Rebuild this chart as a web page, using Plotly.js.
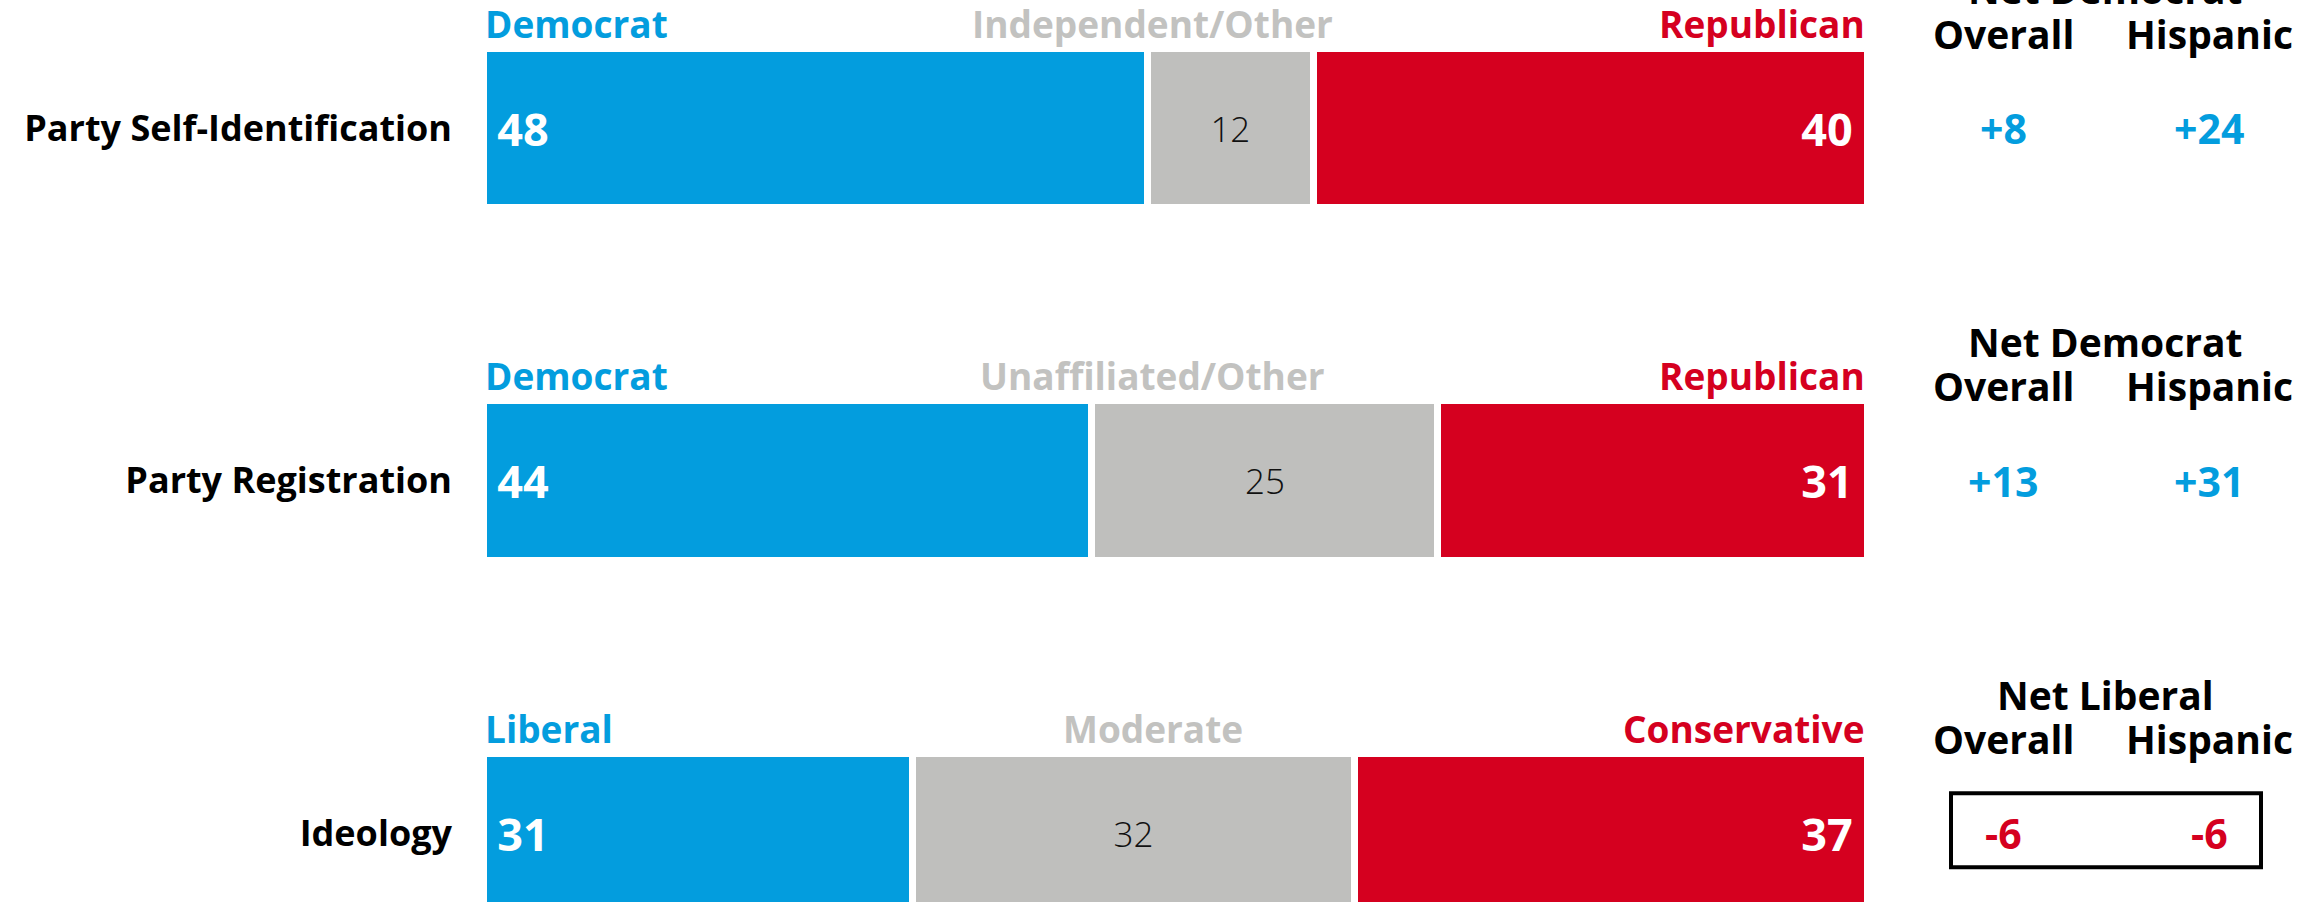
<!DOCTYPE html>
<html>
<head>
<meta charset="utf-8">
<script src="https://cdn.plot.ly/plotly-3.0.1.min.js"></script>
<style>
  html, body { margin: 0; padding: 0; background: #ffffff; }
  #chart { width: 2323px; height: 902px; }
</style>
</head>
<body>
<div id="chart"></div>
<script>
// ---- data ----
const categories = ['Party Self-Identification', 'Party Registration', 'Ideology'];
const leftNames = ['Democrat', 'Democrat', 'Liberal'];
const midNames = ['Independent/Other', 'Unaffiliated/Other', 'Moderate'];
const rightNames = ['Republican', 'Republican', 'Conservative'];
const leftVals = [48, 44, 31];
const midVals = [12, 25, 32];
const rightVals = [40, 31, 37];
const netTitles = ['Net Democrat', 'Net Democrat', 'Net Liberal'];
const colHeaders = ['Overall', 'Hispanic'];
const netOverall = ['+8', '+13', '-6'];
const netHispanic = ['+24', '+31', '-6'];
const boxedRows = [false, false, true];

// ---- style ----
const BLUE = '#039DDE';
const RED = '#D5001F';
const GRAY = '#BFBFBD';
const GRAY_TEXT = '#C2C2C0';
const FONT = 'Open Sans, sans-serif';
const PAD = '\u2005';

const L = 483, R = 456, W = 2323, H = 902;
const plotW = W - L - R;
const px2paper = p => (p - L) / plotW;
const unitPx = 352.6;               // pixels per category step
const firstCenterPx = 128;
const rowPx = (i, off) => firstCenterPx + i * unitPx + off;
const pyPaper = p => 1 - p / H;
const barW = 0.453;

const common = {
  type: 'bar', orientation: 'h', y: categories,
  width: categories.map(() => barW),
  textposition: 'inside', textangle: 0, constraintext: 'none',
  hoverinfo: 'skip', cliponaxis: false
};

const traces = [
  Object.assign({}, common, {
    x: leftVals, text: leftVals.map(v => PAD + v), name: 'left',
    marker: { color: BLUE, line: { color: '#ffffff', width: 7 } },
    insidetextanchor: 'start',
    insidetextfont: { family: FONT, size: 45, color: '#ffffff', weight: 700 }
  }),
  Object.assign({}, common, {
    x: midVals, text: midVals.map(String), name: 'mid',
    marker: { color: GRAY, line: { color: '#ffffff', width: 7 } },
    insidetextanchor: 'middle',
    insidetextfont: { family: FONT, size: 35, color: '#111111', weight: 300 }
  }),
  Object.assign({}, common, {
    x: rightVals, text: rightVals.map(v => v + PAD), name: 'right',
    marker: { color: RED, line: { color: '#ffffff', width: 7 } },
    insidetextanchor: 'end',
    insidetextfont: { family: FONT, size: 45, color: '#ffffff', weight: 700 }
  })
];

const annotations = [];
const shapes = [];
const labelOffPx = -105;
const segFont = c => ({ family: FONT, size: 37, color: c, weight: 700 });
const hdrFont = { family: FONT, size: 39, color: '#000000', weight: 700 };
categories.forEach((c, i) => {
  const ly = pyPaper(rowPx(i, labelOffPx));
  // segment names above bars
  annotations.push({ xref: 'x', yref: 'paper', x: 0, y: ly, text: leftNames[i],
    showarrow: false, xanchor: 'left', yanchor: 'middle', font: segFont(BLUE) });
  annotations.push({ xref: 'x', yref: 'paper', x: 48.4, y: ly, text: midNames[i],
    showarrow: false, xanchor: 'center', yanchor: 'middle', font: segFont(GRAY_TEXT) });
  annotations.push({ xref: 'x', yref: 'paper', x: 100, y: ly, text: rightNames[i],
    showarrow: false, xanchor: 'right', yanchor: 'middle', font: segFont(RED) });
  // net headers
  annotations.push({ xref: 'paper', yref: 'paper', x: px2paper(2105), y: pyPaper(rowPx(i, -139)), text: netTitles[i],
    showarrow: false, xanchor: 'center', yanchor: 'middle', font: hdrFont });
  annotations.push({ xref: 'paper', yref: 'paper', x: px2paper(2003), y: pyPaper(rowPx(i, -95)), text: colHeaders[0],
    showarrow: false, xanchor: 'center', yanchor: 'middle', font: hdrFont });
  annotations.push({ xref: 'paper', yref: 'paper', x: px2paper(2209), y: pyPaper(rowPx(i, -95)), text: colHeaders[1],
    showarrow: false, xanchor: 'center', yanchor: 'middle', font: hdrFont });
  // net values
  const vals = [netOverall[i], netHispanic[i]];
  [2003, 2209].forEach((p, k) => {
    const v = vals[k];
    annotations.push({ xref: 'paper', yref: 'y', x: px2paper(p), y: i, text: v,
      showarrow: false, xanchor: 'center', yanchor: 'middle',
      font: { family: FONT, size: 41, color: v.trim().startsWith('-') ? RED : BLUE, weight: 700 } });
  });
  if (boxedRows[i]) {
    shapes.push({ type: 'rect', xref: 'paper', yref: 'y',
      x0: px2paper(1951), x1: px2paper(2261), y0: i - 40 / unitPx, y1: i + 34 / unitPx,
      line: { color: '#000000', width: 4 }, fillcolor: 'rgba(0,0,0,0)' });
  }
});

const layout = {
  width: W, height: H,
  margin: { l: L, r: R, t: 0, b: 0, pad: 0 },
  paper_bgcolor: '#ffffff', plot_bgcolor: '#ffffff',
  barmode: 'stack', bargap: 0,
  showlegend: false,
  xaxis: { range: [0, 100], visible: false, fixedrange: true },
  yaxis: {
    type: 'category', categoryorder: 'array', categoryarray: categories,
    range: [(H - firstCenterPx) / unitPx, -firstCenterPx / unitPx], autorange: false,
    showgrid: false, zeroline: false, showline: false, ticks: '',
    ticklabelstandoff: 30,
    tickfont: { family: FONT, size: 36, color: '#000000', weight: 700 }
  },
  annotations: annotations,
  shapes: shapes
};

Plotly.newPlot('chart', traces, layout, { displayModeBar: false, staticPlot: true });
</script>
</body>
</html>
